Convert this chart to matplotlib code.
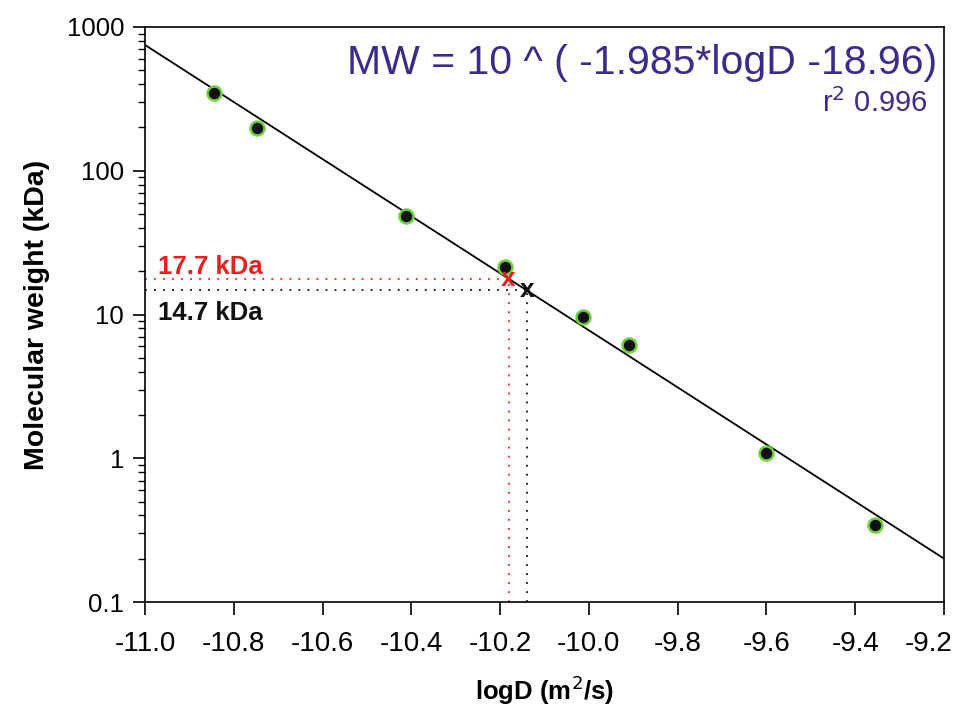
import matplotlib.pyplot as plt
import matplotlib.transforms as mtransforms
import numpy as np
from matplotlib.ticker import LogLocator, FixedLocator, NullFormatter

plt.rcParams['font.family'] = ['Liberation Sans', 'DejaVu Sans']

# standards: logD vs molecular weight (kDa)
logd = [-10.845, -10.748, -10.412, -10.189, -10.014, -9.910, -9.601, -9.356]
mw = [347, 198, 48.4, 21.4, 9.6, 6.1, 1.09, 0.343]

# fit: MW = 10^(slope*logD + intercept)
slope = -1.985
intercept = -18.96

# unknowns
unk_logd = [-10.181, -10.140]
unk_mw = [17.7, 14.7]
unk_col = ['#e8201e', '#111111']
unk_lbl = ['17.7 kDa', '14.7 kDa']

fig = plt.figure(figsize=(9.65, 7.18), dpi=100)
ax = fig.add_axes([145 / 965, 1 - 602 / 718, 799 / 965, 575 / 718])

xfit = np.array([-11.0, -9.2])
ax.plot(xfit, 10 ** (slope * xfit + intercept), color='black', lw=1.3, zorder=2)

ax.plot(logd, mw, 'o', ms=10, mfc='#111111', mec='#6ccf3c', mew=1.8, zorder=3)

for x, y, c in zip(unk_logd, unk_mw, unk_col):
    ax.plot([-11.0, x], [y, y], ls=(0, (1, 4)), color=c, lw=1.3, zorder=1)
    ax.plot([x, x], [0.1, y], ls=(0, (1, 4)), color=c, lw=1.3, zorder=1)
    ax.text(x, y, 'x', color=c, fontsize=19, fontweight='bold', ha='center', va='center', zorder=4)

ax.text(-10.97, 21.5, unk_lbl[0], color=unk_col[0], fontsize=18.5, fontweight='bold', va='center')
ax.text(-10.97, 10.2, unk_lbl[1], color=unk_col[1], fontsize=18.5, fontweight='bold', va='center')

ax.text(0.991, 0.938, 'MW = 10 ^ ( -1.985*logD -18.96)', transform=ax.transAxes,
        color='#3c2a8c', fontsize=29.5, ha='right', va='center')
ax.text(0.979, 0.868, r'r$^2$ 0.996', transform=ax.transAxes,
        color='#3c2a8c', fontsize=21, ha='right', va='center')

ax.set_yscale('log')
ax.set_xlim(-11.0, -9.2)
ax.set_ylim(0.1, 1000)
xt = np.round(np.arange(-11.0, -9.19, 0.2), 1)
ax.xaxis.set_major_locator(FixedLocator(xt))
ax.set_xticklabels(['%.1f' % v for v in xt])
ax.yaxis.set_major_locator(FixedLocator([0.1, 1, 10, 100, 1000]))
ax.set_yticklabels(['0.1', '1', '10', '100', '1000'])
ax.yaxis.set_minor_locator(LogLocator(base=10, subs=np.arange(2, 10)))
ax.yaxis.set_minor_formatter(NullFormatter())

ax.tick_params(axis='x', which='major', direction='out', length=9, width=1.2, labelsize=20, pad=12)
ax.tick_params(axis='y', which='major', direction='out', length=9, width=1.2, labelsize=18.5, pad=6)
ax.tick_params(axis='y', which='minor', direction='out', length=5, width=1)
for s in ax.spines.values():
    s.set_linewidth(1.2)

# keep the last x label inside the figure
last = ax.get_xticklabels()[-1]
last.set_transform(last.get_transform() + mtransforms.ScaledTranslation(-15 / 100, 0, fig.dpi_scale_trans))

ax.set_xlabel('logD (m$^2$/s)', fontsize=18.5, fontweight='bold', labelpad=12)
ax.set_ylabel('Molecular weight (kDa)', fontsize=20.5, fontweight='bold', labelpad=12)

fig.savefig('out.png', dpi=100)
